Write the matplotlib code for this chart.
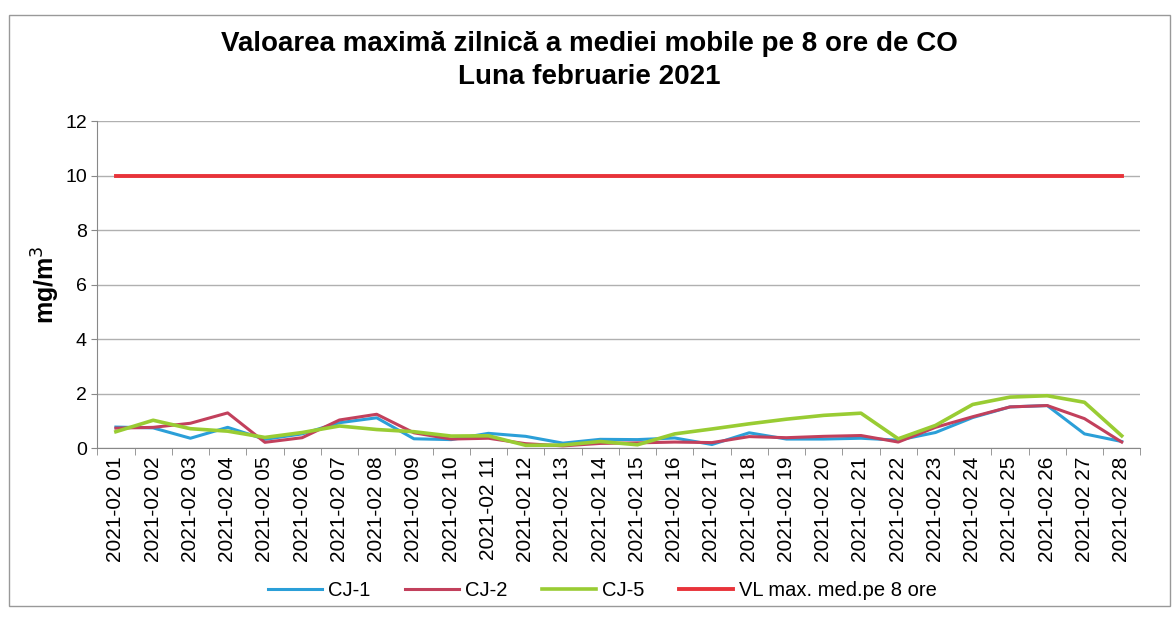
import matplotlib
matplotlib.use('Agg')
import matplotlib.pyplot as plt
from matplotlib.patches import Rectangle

plt.rcParams['font.family'] = ['Liberation Sans', 'DejaVu Sans']

# zilele lunii februarie 2021
days = list(range(1, 29))
labels = ['2021-02 %02d' % d for d in days]

cj1 = [0.77, 0.74, 0.36, 0.76, 0.32, 0.52, 0.93, 1.11, 0.34, 0.31, 0.54, 0.43, 0.18, 0.32,
       0.31, 0.37, 0.13, 0.56, 0.33, 0.33, 0.36, 0.29, 0.57, 1.12, 1.51, 1.56, 0.52, 0.24]
cj2 = [0.73, 0.76, 0.91, 1.29, 0.21, 0.38, 1.03, 1.24, 0.56, 0.33, 0.36, 0.16, 0.08, 0.17,
       0.19, 0.22, 0.20, 0.42, 0.38, 0.43, 0.46, 0.22, 0.76, 1.15, 1.51, 1.56, 1.08, 0.22]
cj5 = [0.60, 1.02, 0.71, 0.62, 0.39, 0.57, 0.81, 0.68, 0.60, 0.44, 0.45, 0.10, 0.11, 0.24,
       0.12, 0.52, 0.70, 0.89, 1.06, 1.20, 1.28, 0.34, 0.83, 1.60, 1.87, 1.92, 1.68, 0.45]
vl = [10] * 28

fig = plt.figure(figsize=(11.72, 6.18), dpi=100)
ax = fig.add_axes([0.083, 0.275, 0.89, 0.529])

ax.plot(days, cj1, color='#2b9fd8', lw=2.2, label='CJ-1')
ax.plot(days, cj2, color='#c2405c', lw=2.2, label='CJ-2')
ax.plot(days, cj5, color='#99cc33', lw=2.6, label='CJ-5')
ax.plot(days, vl, color='#e8333a', lw=2.8, label='VL max. med.pe 8 ore')

ax.set_ylim(0, 12)
ax.set_yticks(range(0, 13, 2))
ax.set_xlim(0.5, 28.5)
ax.set_xticks(days)
ax.set_xticklabels(labels, rotation=90, fontsize=15)
ax.set_xticks([d + 0.5 for d in range(0, 29)], minor=True)
ax.tick_params(axis='x', which='major', length=0, pad=6)
ax.tick_params(axis='x', which='minor', length=5, color='#888888')
ax.tick_params(axis='y', labelsize=14, length=4, color='#888888')
ax.grid(axis='y', color='#b0b0b0', lw=1)
ax.set_axisbelow(True)
for s in ['top', 'right']:
    ax.spines[s].set_visible(False)
for s in ['left', 'bottom']:
    ax.spines[s].set_color('#888888')

ax.set_ylabel('mg/m$^3$', fontsize=18, fontweight='bold', labelpad=2)

fig.text(0.503, 0.929, 'Valoarea maximă zilnică a mediei mobile pe 8 ore de CO',
         ha='center', va='center', fontsize=20, fontweight='bold')
fig.text(0.503, 0.875, 'Luna februarie 2021',
         ha='center', va='center', fontsize=20, fontweight='bold')

fig.legend(loc='center', bbox_to_anchor=(0.514, 0.045), ncol=4, frameon=False,
           fontsize=14.5, handlelength=2.7, handletextpad=0.3, columnspacing=1.7)

fig.patches.append(Rectangle((0.008, 0.02), 0.99, 0.955, transform=fig.transFigure,
                             fill=False, edgecolor='#999999', lw=1))

fig.savefig('out.png', dpi=100)
